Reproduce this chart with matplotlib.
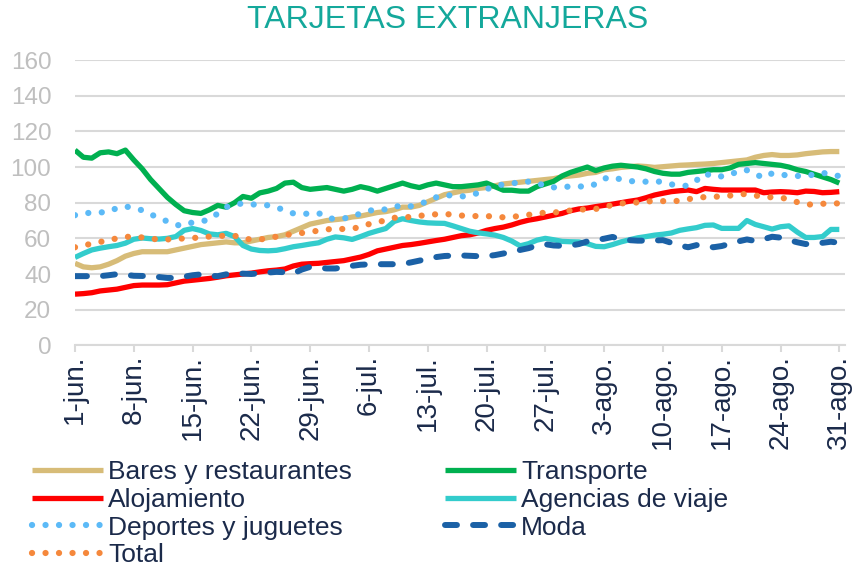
#Daily card spending index by sector (foreign cards), 1-jun to 31-ago
import numpy as np
import matplotlib
matplotlib.use("Agg")
import matplotlib.pyplot as plt

plt.rcParams["font.family"] = ["Liberation Sans", "DejaVu Sans"]

#tick labels, one every 7 days
tick_labels = ["1-jun.", "8-jun.", "15-jun.", "22-jun.", "29-jun.", "6-jul.", "13-jul.",
               "20-jul.", "27-jul.", "3-ago.", "10-ago.", "17-ago.", "24-ago.", "31-ago."]

bares = [46, 44, 43.5, 44, 45.5, 47.5, 50, 51.5, 52.5, 52.5, 52.5, 52.5, 53.5, 54.5, 55.5, 56.5,
         57, 57.5, 58, 57.5, 57.5, 58.5, 59.5, 60.5, 61, 62, 64, 66, 68, 69, 70, 70.5,
         71, 72, 72.5, 73.5, 74.5, 75, 76, 77.5, 77.5, 78.5, 80.5, 82.5, 84.5, 85.5, 86.5, 87,
         88, 88.5, 89.5, 90.5, 91, 91.5, 92, 92.5, 93, 93.5, 94.5, 95, 95.5, 96.5, 97, 98.5,
         99, 99.8, 100.2, 100.6, 100.3, 99.8, 100.2, 100.6, 101, 101.2, 101.5, 101.7, 102, 102.5, 103, 103.5,
         104, 105.5, 106.5, 107, 106.5, 106.5, 106.8, 107.5, 108, 108.5, 108.7, 108.7]

transporte = [109.5, 105.5, 105, 108, 108.5, 107.5, 109.5, 104, 99, 93, 88, 83, 79, 75.5, 74.5, 74,
              76, 78.5, 77.5, 80, 83.5, 82.5, 85.5, 86.5, 88, 91, 91.5, 88.5, 87.5, 88, 88.5, 87.5,
              86.5, 87.5, 89, 88, 86.5, 88, 89.5, 91, 89.5, 88.5, 90, 91, 90, 89, 89, 89.5,
              90, 91, 89, 87, 87, 86.5, 86.5, 89, 90.5, 92, 95, 97, 98.5, 100, 98, 99.5,
              100.5, 101, 100.5, 100, 99, 97.5, 96.5, 96, 96, 97, 97.5, 98, 98.5, 98.5, 99.5, 101.5,
              102, 102.5, 102, 101.5, 101, 100, 98.5, 97.5, 96, 94.5, 93, 91]

alojamiento = [28.7, 29, 29.5, 30.5, 31, 31.5, 32.5, 33.5, 33.8, 33.8, 33.8, 34, 35, 36, 36.5, 37,
               37.5, 38.2, 39, 39.5, 40, 40.5, 41.2, 41.8, 42.2, 42.8, 44.5, 45.5, 45.8, 46, 46.5, 47,
               47.5, 48.5, 49.5, 51, 53, 54, 55, 56, 56.5, 57.2, 58, 58.8, 59.5, 60.5, 61.5, 62,
               63, 64.5, 65.5, 66.3, 67.5, 69, 70.2, 71, 72, 73, 74, 75.5, 76.5, 77, 77.8, 78.5,
               79.2, 80, 80.8, 81.5, 82.8, 84.3, 85.3, 86.2, 86.7, 87.1, 86.2, 88, 87.5, 87.1, 87.1, 87.1,
               87.1, 87.1, 85.6, 86, 86.2, 86, 85.6, 86.5, 86.3, 85.6, 85.8, 86.2]

agencias = [49.3, 51.5, 53.5, 54.5, 55.3, 56, 57.3, 59.5, 60.2, 59.8, 59.6, 60, 61, 64.5, 65.5, 64.4,
            62.5, 62, 62.8, 61, 56, 54, 53.2, 53, 53.3, 54.2, 55.3, 56, 56.8, 57.5, 59.5, 60.8,
            60.3, 59.4, 61, 62.8, 64.2, 65.5, 69.5, 71, 70, 69.2, 68.7, 68.5, 68.4, 67, 65.5, 64,
            63.1, 62.5, 61.8, 60.5, 58.5, 55.8, 57, 59, 60, 59.2, 58.3, 58.1, 58, 57, 55.5, 55.3,
            56.5, 58, 59.2, 60.3, 61, 61.8, 62.3, 63, 64.5, 65.3, 66, 67.3, 67.5, 65.6, 65.6, 65.6,
            70, 67.8, 66.5, 65.2, 66.5, 67, 63.5, 60.5, 60.5, 61, 65, 65]

deportes = [73, 74, 74.4, 74.5, 75, 77, 78, 76.8, 75.8, 73.5, 71.5, 69.5, 67.5, 67.2, 69, 69.5,
            70.5, 74, 77.5, 79.2, 79.5, 79, 79, 78.5, 77.5, 75.5, 74, 73.6, 74, 74.2, 71.5, 70.8,
            71.2, 72, 74, 75.5, 76.2, 76.2, 77.5, 78.7, 78, 79, 81, 83, 84.3, 84, 83.5, 84,
            85.5, 87.5, 89.5, 90.2, 90.8, 91.5, 91.8, 91.5, 89, 88.6, 88.6, 89.2, 89.2, 88.8, 90.5, 93.5,
            94.5, 93, 92.2, 91.8, 91.8, 92.2, 91.5, 90.3, 89.5, 89.5, 92.5, 96.5, 94.5, 94.8, 95.5, 98,
            98.2, 96, 94, 96.5, 96, 95, 95, 95, 95.8, 96.9, 95.5, 95]

moda = [38.8, 38.8, 38.8, 38.8, 39.3, 39.9, 39.6, 39, 38.9, 38.8, 38.3, 37.8, 37.8, 38.5, 39.3, 39.8,
        39, 38.8, 39.8, 40.6, 40.2, 40, 40.4, 40.8, 41.2, 41, 40.3, 42.5, 44, 43.5, 43.1, 43.1,
        43.8, 44.6, 45.2, 45.4, 45.5, 45.5, 45.5, 45.6, 46.5, 47.5, 48.5, 49.5, 50.1, 50.3, 50.4, 50.2,
        50, 50, 50.6, 51.5, 52.5, 53.5, 54.5, 56, 56.7, 56, 55.8, 56, 56.8, 58.3, 59, 59.8,
        60.8, 59.4, 59, 58.7, 58.7, 58.8, 59, 57.5, 56, 55, 56.2, 56, 55, 55.7, 57, 58.3,
        59.4, 58.5, 59.5, 60.9, 60.4, 59, 57.8, 56.8, 57.2, 57.5, 58.1, 57.5]

total = [55, 56, 57, 58, 59, 60, 60.8, 61, 60.5, 59.8, 59.4, 59.4, 59.6, 60, 60.2, 60.5,
         61, 61.3, 61.5, 61.5, 59.8, 59.4, 59.4, 60, 61, 61.8, 62.5, 63, 63.7, 64.3, 65, 65.5,
         65.2, 65.5, 66.3, 68, 69.2, 70, 71.5, 72, 71.9, 72.6, 73.2, 73.5, 73.6, 73.4, 72.8, 72.5,
         72.5, 72.5, 72.2, 71.8, 72, 72.6, 73.2, 74, 74.4, 74.4, 75.2, 75.6, 76.2, 76.2, 76.5, 77.5,
         78.8, 79.6, 79.8, 80.2, 80.6, 81, 80.9, 80.6, 81.2, 82, 82.6, 83.2, 83.4, 83.4, 84, 84.5,
         85, 84, 83.4, 83, 82.8, 82, 80.3, 79.2, 78.8, 79.4, 79.6, 79.6]

#name, data, colour, line style, line width
series = [
    ("Bares y restaurantes", bares, "#D7BC78", "-", 3.8),
    ("Transporte", transporte, "#00B050", "-", 3.8),
    ("Alojamiento", alojamiento, "#FF0000", "-", 3.8),
    ("Agencias de viaje", agencias, "#33CCCC", "-", 3.8),
    ("Deportes y juguetes", deportes, "#5CBAF7", (0, (0.01, 2.15)), 4.5),
    ("Moda", moda, "#1B61A6", (0, (2.0, 2.7)), 4.3),
    ("Total", total, "#F5883C", (0, (0.01, 2.15)), 4.5),
]

days = np.arange(len(bares))

fig = plt.figure(figsize=(8.52, 5.67), dpi=100)
ax = fig.add_axes([0.088, 0.391, 0.904, 0.503])

lines = {}
for name, vals, color, ls, lw in series:
    ln, = ax.plot(days, vals, color=color, linestyle=ls, linewidth=lw,
                  solid_capstyle="butt", dash_capstyle="round", label=name)
    lines[name] = ln

#axis setup
ax.set_ylim(0, 160)
ax.set_yticks(np.arange(0, 161, 20))
ax.set_xlim(0, 91.7)
ax.set_xticks(np.arange(0, len(bares), 7))
ax.set_xticklabels(tick_labels, rotation=90)

ax.grid(axis="y", color="#D9D9D9", linewidth=1.5)
ax.set_axisbelow(True)
for side in ["top", "right", "left"]:
    ax.spines[side].set_visible(False)
ax.spines["bottom"].set_color("#D9D9D9")
ax.spines["bottom"].set_linewidth(1.5)
ax.tick_params(axis="y", length=0, pad=17, labelsize=17.5, labelcolor="#BFBFBF")
ax.tick_params(axis="x", length=5, width=1.5, color="#D9D9D9", pad=2,
               labelsize=20, labelcolor="#1B2A4A")

#legend, filled row by row like the original
order = ["Bares y restaurantes", "Alojamiento", "Deportes y juguetes", "Total",
         "Transporte", "Agencias de viaje", "Moda"]
leg = fig.legend([lines[n] for n in order], order, ncol=2, loc="upper left",
                 bbox_to_anchor=(0.025, 0.207), frameon=False, handlelength=2.7,
                 handletextpad=0.2, columnspacing=3.5, labelspacing=0.14,
                 borderaxespad=0, prop={"size": 19})
for t in leg.get_texts():
    t.set_color("#1B2A4A")

fig.text(0.525, 0.965, "TARJETAS EXTRANJERAS", ha="center", va="center",
         fontsize=23, color="#14A89B")

plt.savefig("out.png", dpi=100)
